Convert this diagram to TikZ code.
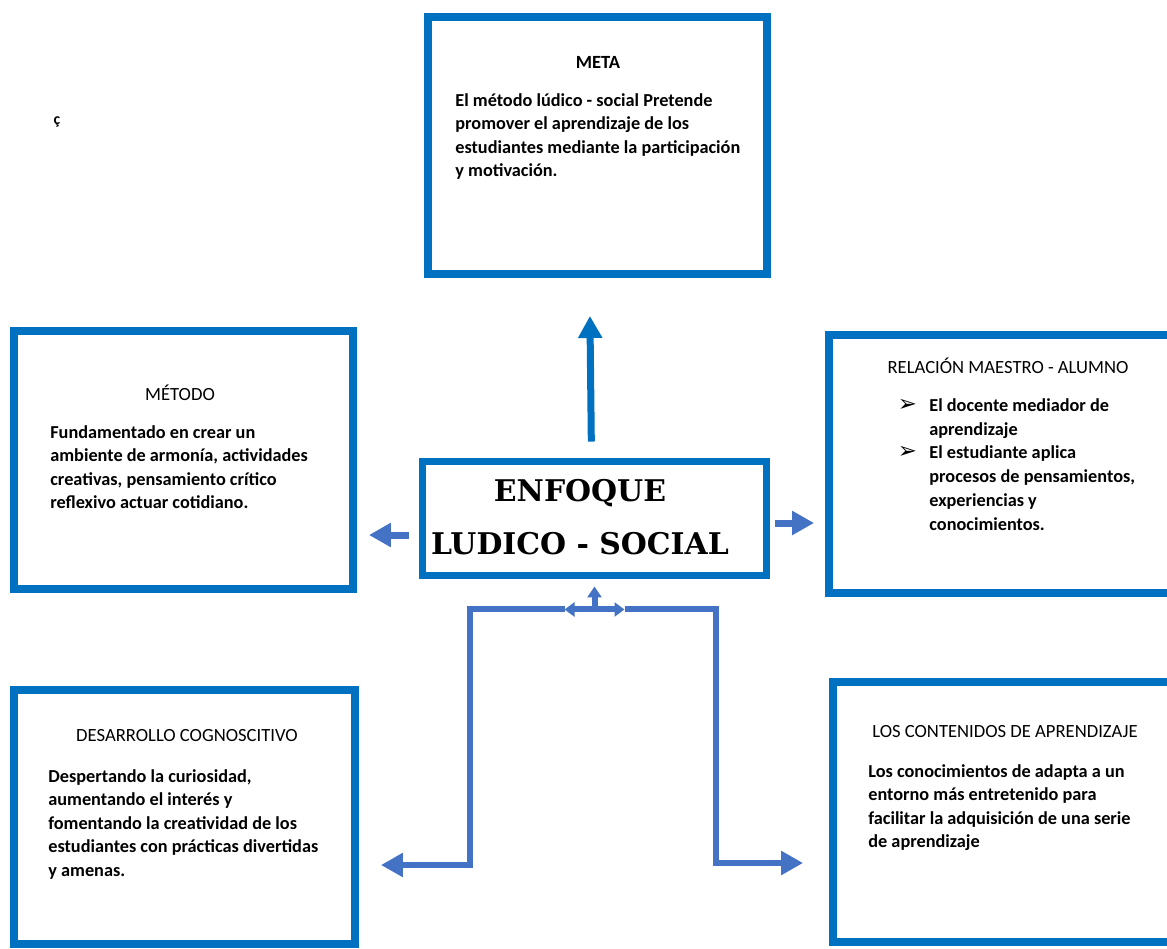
\documentclass[tikz,border=0pt]{standalone}
\usepackage{fontspec}
\setmainfont{Carlito}
\newfontfamily\heavyserif{DejaVu Serif}
\newfontfamily\dingfont{DejaVu Sans}
\usepackage{tikz}
\usetikzlibrary{arrows.meta}
\definecolor{boxblue}{HTML}{0070C0}
\definecolor{arrblue}{HTML}{4472C4}
\newcommand{\bul}{{\dingfont\bfseries\fontsize{13}{10}\selectfont ➢}}
\tikzset{
  box/.style={draw=boxblue, line width=0.16cm, inner sep=0},
  ttl/.style={inner sep=0, font=\fontsize{10.6}{12}\selectfont},
  body/.style={anchor=north west, align=left, inner sep=0, font=\bfseries\fontsize{10.4}{13.4}\selectfont},
  bigarrow/.style={draw=arrblue, line width=0.14cm, -{Triangle[length=0.44cm,width=0.46cm]}},
  conn/.style={draw=arrblue, line width=0.12cm},
}

\begin{document}
\begin{tikzpicture}[x=0.02cm,y=-0.02cm]
\useasboundingbox (0,0) rectangle (1167,948);
\clip (0,0) rectangle (1167,948);
% boxes
\node[box, minimum width=6.78cm, minimum height=5.14cm] (meta) at (597.5,145.5) {};
\node[box, minimum width=6.78cm, minimum height=5.16cm] (metodo) at (183.5,460) {};
\node[box, minimum width=6.92cm, minimum height=5.16cm] (relacion) at (1002,464) {};
\node[box, line width=0.14cm, minimum width=6.9cm, minimum height=2.28cm] (enfoque) at (594.5,518) {};
\node[box, minimum width=6.82cm, minimum height=5.08cm] (desarrollo) at (184.5,817) {};
\node[box, minimum width=6.84cm, minimum height=5.2cm] (contenidos) at (1004,812) {};

% texts
\node[ttl, font=\bfseries\fontsize{10.6}{12}\selectfont] (metattl) at (598,62) {META};
\node[body, font=\bfseries\fontsize{10.4}{13.4}\selectfont] (metabody) at (455,93) {El método lúdico - social Pretende\\promover el aprendizaje de los\\estudiantes mediante la participación\\y motivación.};
\node[inner sep=0, font=\bfseries\fontsize{9}{9}\selectfont] (cedil) at (57,122) {ç};

\node[ttl] (metodottl) at (180,393) {MÉTODO};
\node[body] (metodobody) at (50,425) {Fundamentado en crear un\\ambiente de armonía, actividades\\creativas, pensamiento crítico\\reflexivo actuar cotidiano.};

\node[ttl] (relttl) at (1008,366) {RELACIÓN MAESTRO - ALUMNO};
\node[body, font=\bfseries\fontsize{10.4}{13.6}\selectfont] (relbody) at (929,398) {\llap{\bul\hspace{7pt}}El docente mediador de\\aprendizaje\\\llap{\bul\hspace{7pt}}El estudiante aplica\\procesos de pensamientos,\\experiencias y\\conocimientos.};

\node[align=center, inner sep=0, font=\heavyserif\bfseries\fontsize{17}{30}\selectfont] (enftxt) at (580,517) {ENFOQUE\\LUDICO - SOCIAL};

\node[ttl] (desttl) at (187,736) {DESARROLLO COGNOSCITIVO};
\node[body] (desbody) at (48,769) {Despertando la curiosidad,\\aumentando el interés y\\fomentando la creatividad de los\\estudiantes con prácticas divertidas\\y amenas.};

\node[ttl] (conttl) at (1005,732) {LOS CONTENIDOS DE APRENDIZAJE};
\node[body] (conbody) at (868,764) {Los conocimientos de adapta a un\\entorno más entretenido para\\facilitar la adquisición de una serie\\de aprendizaje};

% arrows
\draw[bigarrow, draw=boxblue, shorten <=0.32cm, shorten >=0.76cm] ([xshift=-0.06cm]enfoque.north) -- ([xshift=-0.16cm]meta.south);
\coordinate (lft) at ([yshift=-0.34cm]enfoque.west);
\draw[bigarrow, shorten <=0.2cm, shorten >=0.24cm] (lft) -- (lft -| metodo.east);
\coordinate (rgt) at ([yshift=-0.1cm]enfoque.east);
\draw[bigarrow, shorten <=0.1cm, shorten >=0.22cm] (rgt) -- (rgt -| relacion.west);

% bottom connector
\coordinate (jn) at ([yshift=-0.62cm]enfoque.south);
\coordinate (lbend) at (470,865);
\coordinate (rbend) at (716,863);
\draw[conn, -{Triangle[length=0.44cm,width=0.46cm]}, shorten >=0.44cm] ([xshift=-0.6cm]jn) -| (lbend) -- (lbend -| desarrollo.east);
\draw[conn, -{Triangle[length=0.44cm,width=0.46cm]}, shorten >=0.52cm] ([xshift=0.6cm]jn) -| (rbend) -- (rbend -| contenidos.west);
\draw[conn, {Triangle[length=0.2cm,width=0.28cm]}-{Triangle[length=0.2cm,width=0.28cm]}] ([xshift=-0.6cm]jn) -- ([xshift=0.6cm]jn);
\draw[conn, -{Triangle[length=0.22cm,width=0.28cm]}, shorten >=0.16cm] (jn) -- (enfoque.south);
\end{tikzpicture}
\end{document}
